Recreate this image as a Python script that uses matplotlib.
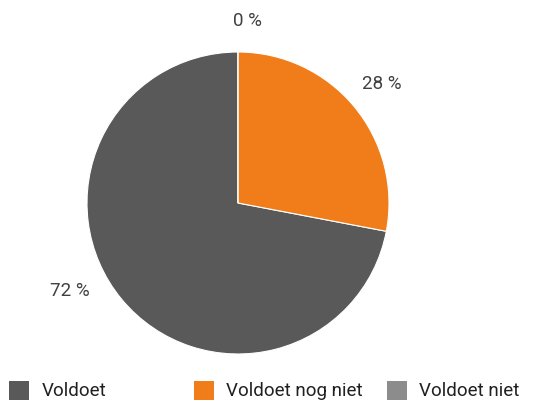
import numpy as np
import matplotlib
matplotlib.use("Agg")
import matplotlib.pyplot as plt
from matplotlib.patches import Patch

# data
categorieen = ["Voldoet", "Voldoet nog niet", "Voldoet niet"]
percentages = [72, 28, 0]
kleuren = ["#595959", "#F07D19", "#8C8C8C"]

# label placement (angle offset in degrees, distance as fraction of radius)
label_layout = [(-12, 1.26), (0, 1.24), (-3, 1.21)]

plt.rcParams["font.family"] = ["Roboto", "DejaVu Sans"]

fig = plt.figure(figsize=(5.45, 4.01), dpi=100)
# pie axes: centre (238, 203) px, radius 151 px
ax = fig.add_axes([(238 - 151) / 545, (401 - 354) / 401, 302 / 545, 302 / 401])

wedges, _ = ax.pie(percentages, colors=kleuren, startangle=90, counterclock=True,
                   radius=1, wedgeprops=dict(linewidth=0.8, edgecolor="white"))
ax.set_xlim(-1, 1)
ax.set_ylim(-1, 1)
ax.set_aspect("equal")
ax.axis("off")

for w, p, (da, d) in zip(wedges, percentages, label_layout):
    mid = np.deg2rad((w.theta1 + w.theta2) / 2 + da)
    ax.text(d * np.cos(mid), d * np.sin(mid), f"{p} %", ha="center", va="center",
            fontsize=13.5, color="#404040", clip_on=False)

# legend, one entry per box like Excel
ankers = [12, 197, 390]
for naam, kleur, x in zip(categorieen, kleuren, ankers):
    fig.legend(handles=[Patch(facecolor=kleur, label=naam)], loc="upper left",
               bbox_to_anchor=(x / 545 - 0.02, (401 - 373) / 401), frameon=False,
               fontsize=13.5, handlelength=1.1, handleheight=1.2, handletextpad=0.65,
               borderaxespad=0, labelcolor="#202020")

fig.savefig("out.png", dpi=100)
